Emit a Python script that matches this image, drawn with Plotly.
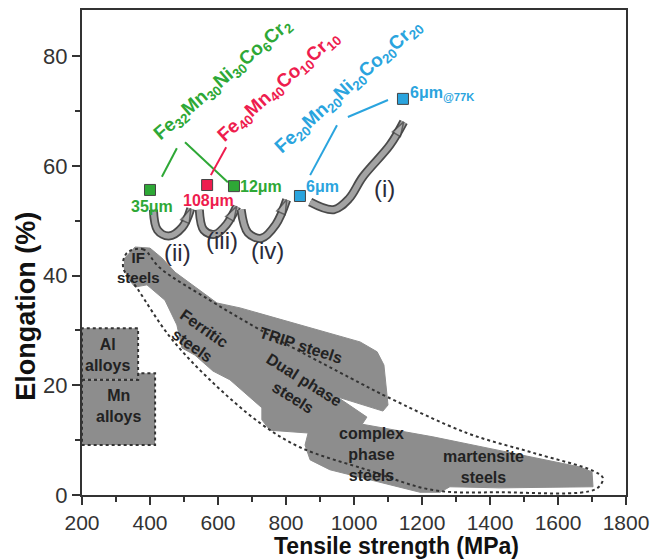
import plotly.graph_objects as go

# ---------------- data (MPa, %) ----------------
green_x = [400, 647]
green_y = [55.6, 56.3]
red_x = [568]
red_y = [56.5]
blue_x = [841, 1144]
blue_y = [54.5, 72.2]

# Steel band outline (gray region)
band_x = [326, 356, 400, 435, 474, 532, 597, 665, 841, 1018, 1068, 1088, 1100, 1085,
          950, 1038, 1024, 1232, 1665, 1700, 1703, 1429, 1282, 1253, 1194, 929, 871,
          856, 865, 812, 753, 729, 729, 635, 585, 532, 494, 479, 444, 391, 356, 335, 324]
band_y = [43.2, 45.2, 45.0, 43.2, 40.6, 37.9, 35.0, 34.1, 31.0, 27.9, 26.1, 23.7, 16.4, 15.3,
          17.9, 14.2, 12.9, 10.6, 5.1, 4.2, 1.5, 1.3, 1.5, 0.5, 0.5, 4.6, 6.4,
          9.1, 11.3, 11.5, 11.8, 13.7, 15.9, 21.0, 22.6, 25.5, 26.8, 31.0, 35.5, 38.3, 37.9, 39.5, 41.4]

# Dashed envelope
env_x = [332, 379, 429, 576, 724, 1018, 1097, 1332, 1526, 1703, 1732,
         1712, 1429, 1232, 1038, 841, 724, 576, 459, 362, 321, 332]
env_y = [44.1, 44.8, 41.4, 35.5, 30.1, 20.4, 17.9, 11.3, 7.7, 4.4, 3.1,
         1.1, 0.5, 0.9, 4.6, 8.7, 13.1, 21.0, 28.8, 37.7, 41.5, 44.1]

# Al and Mn alloy boxes
al_x = [200, 365, 365, 200, 200]
al_y = [21.0, 21.0, 30.4, 30.4, 21.0]
mn_x = [200, 365, 365, 415, 415, 200, 200]
mn_y = [21.0, 21.0, 22.2, 22.2, 9.1, 9.1, 21.0]

# Curved arrows (i)-(iv)
arr1_x = [871, 940, 985, 1026, 1106, 1146]
arr1_y = [53.4, 52.0, 54.0, 58.0, 63.8, 68.0]
arr2_x = [410, 422, 455, 495, 520]
arr2_y = [52.0, 48.3, 47.2, 48.8, 52.2]
arr3_x = [545, 558, 590, 625, 655]
arr3_y = [52.0, 48.3, 47.5, 49.3, 52.6]
arr4_x = [668, 688, 728, 770, 802]
arr4_y = [52.0, 47.8, 46.8, 49.3, 53.8]

GREEN = "#2ea836"
RED = "#ee1c4e"
BLUE = "#2aa4de"
GRAY = "#8d8d8d"
DARK = "#333333"
FONT = "Liberation Sans, Arial"

fig = go.Figure()

# alloy boxes
for xs, ys in [(mn_x, mn_y), (al_x, al_y)]:
    fig.add_trace(go.Scatter(x=xs, y=ys, mode="lines", fill="toself", fillcolor=GRAY,
                             line=dict(color=DARK, width=2, dash="dot"), hoverinfo="skip",
                             showlegend=False))

# steel band
fig.add_trace(go.Scatter(x=band_x + band_x[:1], y=band_y + band_y[:1], mode="lines",
                         fill="toself", fillcolor=GRAY, line=dict(color=GRAY, width=1),
                         hoverinfo="skip", showlegend=False))
# envelope
fig.add_trace(go.Scatter(x=env_x, y=env_y, mode="lines",
                         line=dict(color=DARK, width=2, dash="dot", shape="spline", smoothing=1.0),
                         hoverinfo="skip", showlegend=False))

# arrows
for ax_, ay_ in [(arr1_x, arr1_y), (arr2_x, arr2_y), (arr3_x, arr3_y), (arr4_x, arr4_y)]:
    fig.add_trace(go.Scatter(x=ax_, y=ay_, mode="lines",
                             line=dict(color="#4a4a4a", width=9, shape="spline"),
                             hoverinfo="skip", showlegend=False))
    fig.add_trace(go.Scatter(x=ax_, y=ay_, mode="lines",
                             line=dict(color="#a3a3a3", width=5.5, shape="spline"),
                             hoverinfo="skip", showlegend=False))
    fig.add_trace(go.Scatter(x=ax_[-2:], y=ay_[-2:], mode="markers",
                             marker=dict(symbol="arrow", size=[0, 15], angleref="previous",
                                         color="#b5b5b5", line=dict(color="#444", width=1.5)),
                             hoverinfo="skip", showlegend=False))

# connector lines
conn = [([479, 435], [63.2, 58.0], GREEN), ([503, 629], [64.3, 57.0], GREEN),
        ([624, 579], [63.4, 58.3], RED), ([950, 871], [67.4, 58.3], BLUE),
        ([982, 1100], [68.9, 72.0], BLUE)]
for cx, cy, cc in conn:
    fig.add_trace(go.Scatter(x=cx, y=cy, mode="lines", line=dict(color=cc, width=2),
                             hoverinfo="skip", showlegend=False))

# data squares
for xs, ys, cc in [(green_x, green_y, GREEN), (red_x, red_y, RED), (blue_x, blue_y, BLUE)]:
    fig.add_trace(go.Scatter(x=xs, y=ys, mode="markers",
                             marker=dict(symbol="square", size=11, color=cc,
                                         line=dict(color="#444", width=1)),
                             showlegend=False))

ann = []
def txt(x, y, t, size=14, color="#222", angle=0, bold=True, xanchor="center"):
    ann.append(dict(x=x, y=y, text=(f"<b>{t}</b>" if bold else t), showarrow=False,
                    textangle=angle, xanchor=xanchor, yanchor="middle",
                    font=dict(size=size, color=color, family=FONT)))

# formulas
txt(614, 75.6, "Fe<sub>32</sub>Mn<sub>30</sub>Ni<sub>30</sub>Co<sub>6</sub>Cr<sub>2</sub>", 19, GREEN, -41)
txt(778, 74.4, "Fe<sub>40</sub>Mn<sub>40</sub>Co<sub>10</sub>Cr<sub>10</sub>", 19, RED, -42)
txt(984, 74.4, "Fe<sub>20</sub>Mn<sub>20</sub>Ni<sub>20</sub>Co<sub>20</sub>Cr<sub>20</sub>", 19, BLUE, -42)

# grain size labels
txt(406, 52.6, "35μm", 16, GREEN)
txt(571, 53.7, "108μm", 16, RED)
txt(658, 56.3, "12μm", 16, GREEN, xanchor="left")
txt(853, 56.3, "6μm", 16, BLUE, xanchor="left")
txt(1160, 73.2, "6μm<sub>@77K</sub>", 16, BLUE, xanchor="left")

# arrow labels
for x, y, t in [(1091, 55.9, "(i)"), (482, 44.2, "(ii)"), (612, 46.4, "(iii)"), (747, 44.5, "(iv)")]:
    txt(x, y, t, 24, "#2b2b3a", bold=False)

# region labels
txt(276, 25.6, "Al<br>alloys", 16)
txt(306, 16.2, "Mn<br>alloys", 16)
txt(366, 41.4, "IF<br>steels", 15)
txt(541, 28.8, "Ferritic<br>steels", 16, angle=35)
txt(845, 27.3, "TRIP steels", 16, angle=18)
txt(838, 19.4, "Dual phase<br>steels", 16, angle=32)
txt(1050, 7.3, "complex<br>phase<br>steels", 16)
txt(1380, 5.1, "martensite<br>steels", 16)

# axis titles (placed as paper annotations)
ann.append(dict(xref="paper", yref="paper", x=0.579, y=-0.106, text="<b>Tensile strength (MPa)</b>",
                showarrow=False, xanchor="center", yanchor="middle",
                font=dict(size=23, color="#111", family=FONT)))
ann.append(dict(xref="paper", yref="paper", x=-0.103, y=0.39, text="<b>Elongation (%)</b>",
                showarrow=False, textangle=-90, xanchor="center", yanchor="middle",
                font=dict(size=27, color="#111", family=FONT)))

fig.update_layout(
    width=651, height=560,
    margin=dict(l=82, r=25, t=10, b=65),
    plot_bgcolor="white", paper_bgcolor="white",
    annotations=ann,
    font=dict(family=FONT, color="#333"),
)
fig.update_xaxes(range=[200, 1800], tick0=200, dtick=200, ticks="outside", ticklen=8, tickwidth=2,
                 tickcolor=DARK, showline=True, linecolor=DARK, linewidth=2, mirror=True,
                 showgrid=False, zeroline=False, tickfont=dict(size=21, color="#333"),
                 automargin=False,
                 minor=dict(ticks="outside", ticklen=5, tickwidth=2, tickcolor=DARK, dtick=100, showgrid=False))
fig.update_yaxes(range=[0, 88.4], tick0=0, dtick=20, ticks="outside", ticklen=8, tickwidth=2,
                 tickcolor=DARK, showline=True, linecolor=DARK, linewidth=2, mirror=True,
                 showgrid=False, zeroline=False, tickfont=dict(size=22, color="#333"),
                 automargin=False,
                 minor=dict(ticks="outside", ticklen=5, tickwidth=2, tickcolor=DARK, dtick=10, showgrid=False))

fig.write_html("out.html")
